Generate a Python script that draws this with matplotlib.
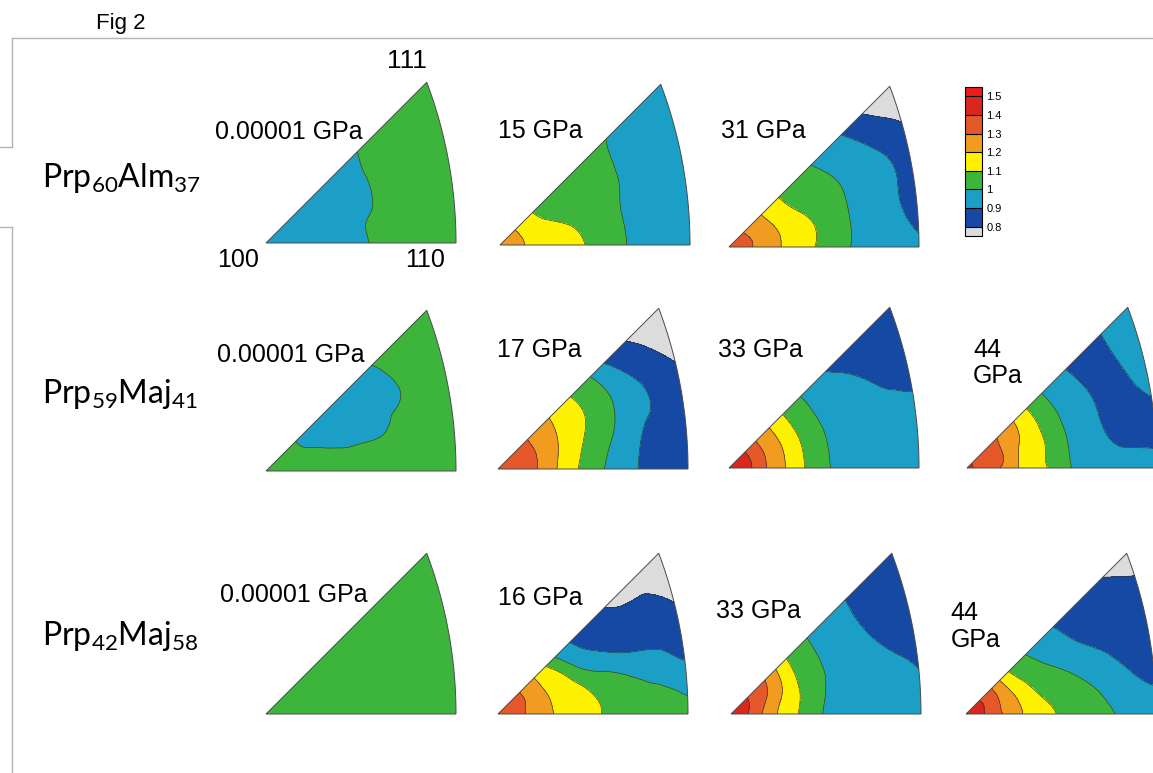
import numpy as np
import matplotlib
matplotlib.use('Agg')
import matplotlib.pyplot as plt
from matplotlib.colors import ListedColormap, BoundaryNorm
from matplotlib.path import Path
from matplotlib.patches import PathPatch
from matplotlib.lines import Line2D
from matplotlib.tri import Triangulation, UniformTriRefiner

plt.rcParams['font.family'] = ['Liberation Sans', 'DejaVu Sans']
plt.rcParams['mathtext.fontset'] = 'custom'
plt.rcParams['mathtext.rm'] = 'Lato'
plt.rcParams['mathtext.it'] = 'Lato:italic'
plt.rcParams['mathtext.bf'] = 'Lato:bold'

W, H = 1153, 773

# contour levels and band colours (low -> high)
levels = [0.8, 0.9, 1.0, 1.1, 1.2, 1.3, 1.4, 1.5]
level_labels = ['0.8', '0.9', '1', '1.1', '1.2', '1.3', '1.4', '1.5']
band_colors = ['#1549a4', '#1b9fc6', '#3db53d', '#fff200', '#f29b21', '#e4582a', '#d9271f']
under_color = '#dcdcdc'
over_color = '#ee1b1b'

# sampling rays from the 100 corner (deg) and radii along them
ray_angles = [0, 15, 30, 45]
ray_radii = [0.0, 0.1, 0.2, 0.3, 0.4, 0.5, 0.6, 0.7, 0.8, 0.9, 1.0, 1.1, 1.2]

# values along each ray, rows = 0, 15, 30, 45 deg
prp60_p0 = [[0.95, 0.95, 0.96, 0.96, 0.97, 0.98, 1.03, 1.04, 1.04, 1.05, 1.05, 1.05, 1.05],
            [0.95, 0.95, 0.96, 0.96, 0.97, 0.99, 1.01, 1.04, 1.04, 1.05, 1.05, 1.05, 1.05],
            [0.95, 0.95, 0.96, 0.96, 0.97, 0.98, 0.99, 1.03, 1.04, 1.05, 1.05, 1.05, 1.05],
            [0.95, 0.95, 0.96, 0.96, 0.97, 0.98, 0.99, 1.005, 1.04, 1.05, 1.05, 1.05, 1.05]]
prp60_p15 = [[1.25, 1.21, 1.18, 1.15, 1.12, 1.075, 1.025, 0.99, 0.97, 0.96, 0.95, 0.95, 0.95],
             [1.25, 1.21, 1.17, 1.13, 1.096, 1.06, 1.02, 0.99, 0.97, 0.96, 0.95, 0.95, 0.95],
             [1.25, 1.21, 1.14, 1.09, 1.07, 1.047, 1.026, 1.004, 0.98, 0.97, 0.96, 0.95, 0.95],
             [1.25, 1.21, 1.12, 1.086, 1.069, 1.052, 1.034, 1.017, 0.998, 0.98, 0.97, 0.96, 0.95]]
prp60_p31 = [[1.36, 1.314, 1.25, 1.183, 1.128, 1.072, 1.017, 0.98, 0.96, 0.945, 0.92, 0.9, 0.9],
             [1.36, 1.314, 1.25, 1.184, 1.132, 1.079, 1.026, 0.982, 0.946, 0.911, 0.88, 0.86, 0.85],
             [1.36, 1.31, 1.238, 1.167, 1.099, 1.063, 1.026, 0.99, 0.955, 0.92, 0.885, 0.85, 0.79],
             [1.36, 1.305, 1.231, 1.15, 1.084, 1.044, 1.004, 0.961, 0.917, 0.86, 0.795, 0.76, 0.74]]

prp59_p0 = [[1.05, 1.05, 1.05, 1.05, 1.05, 1.05, 1.05, 1.05, 1.05, 1.05, 1.05, 1.05, 1.05],
            [1.05, 1.05, 1.05, 1.04, 1.01, 1.004, 1.004, 1.02, 1.05, 1.05, 1.05, 1.05, 1.05],
            [1.05, 1.05, 1.02, 0.98, 0.97, 0.97, 0.97, 0.98, 0.995, 1.03, 1.05, 1.05, 1.05],
            [1.05, 1.05, 1.01, 0.975, 0.97, 0.97, 0.97, 0.99, 1.003, 1.04, 1.05, 1.05, 1.05]]
prp59_p17 = [[1.38, 1.34, 1.304, 1.21, 1.118, 1.041, 0.974, 0.917, 0.88, 0.86, 0.85, 0.84, 0.84],
             [1.38, 1.345, 1.309, 1.225, 1.142, 1.073, 1.012, 0.953, 0.895, 0.87, 0.85, 0.83, 0.82],
             [1.38, 1.345, 1.31, 1.242, 1.172, 1.117, 1.059, 0.999, 0.943, 0.89, 0.85, 0.80, 0.77],
             [1.38, 1.345, 1.31, 1.253, 1.188, 1.125, 1.06, 0.989, 0.888, 0.825, 0.78, 0.76, 0.75]]
prp59_p33 = [[1.46, 1.425, 1.299, 1.199, 1.099, 1.017, 0.98, 0.96, 0.95, 0.95, 0.95, 0.94, 0.94],
             [1.46, 1.425, 1.299, 1.199, 1.099, 1.017, 0.98, 0.96, 0.95, 0.95, 0.94, 0.93, 0.93],
             [1.46, 1.425, 1.299, 1.199, 1.099, 1.017, 0.98, 0.96, 0.93, 0.895, 0.87, 0.86, 0.85],
             [1.46, 1.425, 1.299, 1.199, 1.099, 1.017, 0.97, 0.91, 0.87, 0.86, 0.85, 0.84, 0.84]]
prp59_p44 = [[1.43, 1.354, 1.272, 1.178, 1.118, 1.033, 0.98, 0.96, 0.95, 0.94, 0.93, 0.92, 0.92],
             [1.43, 1.361, 1.299, 1.181, 1.119, 1.036, 0.971, 0.924, 0.88, 0.87, 0.88, 0.89, 0.9],
             [1.43, 1.36, 1.305, 1.215, 1.132, 1.043, 0.974, 0.927, 0.88, 0.87, 0.91, 0.93, 0.95],
             [1.43, 1.367, 1.318, 1.244, 1.144, 1.045, 0.972, 0.917, 0.87, 0.86, 0.901, 0.93, 0.95]]

prp42_p0 = [[1.05, 1.05, 1.05, 1.05, 1.05, 1.05, 1.05, 1.05, 1.05, 1.05, 1.05, 1.05, 1.05],
            [1.05, 1.05, 1.05, 1.05, 1.05, 1.05, 1.05, 1.05, 1.05, 1.05, 1.05, 1.05, 1.05],
            [1.05, 1.05, 1.05, 1.05, 1.05, 1.05, 1.05, 1.05, 1.05, 1.05, 1.05, 1.05, 1.05],
            [1.05, 1.05, 1.05, 1.05, 1.05, 1.05, 1.05, 1.05, 1.05, 1.05, 1.05, 1.05, 1.05]]
prp42_p16 = [[1.36, 1.32, 1.264, 1.196, 1.154, 1.112, 1.09, 1.07, 1.06, 1.05, 1.05, 1.04, 1.03],
             [1.36, 1.322, 1.267, 1.19, 1.143, 1.096, 1.057, 1.018, 0.98, 0.955, 0.915, 0.9, 0.9],
             [1.36, 1.325, 1.27, 1.179, 1.107, 0.988, 0.925, 0.88, 0.86, 0.85, 0.84, 0.81, 0.78],
             [1.36, 1.325, 1.27, 1.167, 1.033, 0.92, 0.87, 0.833, 0.797, 0.78, 0.77, 0.76, 0.75]]
prp42_p33 = [[1.46, 1.386, 1.25, 1.145, 1.064, 0.99, 0.96, 0.95, 0.94, 0.93, 0.92, 0.91, 0.91],
             [1.46, 1.399, 1.278, 1.17, 1.079, 1.007, 0.981, 0.96, 0.94, 0.92, 0.9, 0.88, 0.87],
             [1.46, 1.41, 1.32, 1.211, 1.093, 1.021, 0.978, 0.946, 0.914, 0.88, 0.86, 0.85, 0.84],
             [1.46, 1.417, 1.345, 1.244, 1.114, 1.036, 0.985, 0.951, 0.918, 0.885, 0.87, 0.86, 0.85]]
prp42_p44 = [[1.46, 1.399, 1.291, 1.199, 1.141, 1.09, 1.059, 1.027, 0.995, 0.97, 0.95, 0.94, 0.94],
             [1.46, 1.399, 1.284, 1.183, 1.099, 1.062, 1.023, 0.983, 0.939, 0.896, 0.87, 0.86, 0.85],
             [1.46, 1.405, 1.287, 1.15, 1.061, 1.006, 0.957, 0.91, 0.88, 0.86, 0.85, 0.84, 0.83],
             [1.46, 1.399, 1.286, 1.12, 1.025, 0.967, 0.919, 0.884, 0.858, 0.832, 0.805, 0.78, 0.76]]

row_labels = [r'$\mathrm{Prp}_{60}\mathrm{Alm}_{37}$',
              r'$\mathrm{Prp}_{59}\mathrm{Maj}_{41}$',
              r'$\mathrm{Prp}_{42}\mathrm{Maj}_{58}$']

# panel: values, 100-corner position (px), pressure label lines with (x, baseline) in px
panels = [
    (prp60_p0, (266, 243), [('0.00001 GPa', 215, 139)]),
    (prp60_p15, (500, 245), [('15 GPa', 498, 138)]),
    (prp60_p31, (729, 247), [('31 GPa', 721, 138)]),
    (prp59_p0, (266, 471), [('0.00001 GPa', 217, 362)]),
    (prp59_p17, (498, 469), [('17 GPa', 497, 357)]),
    (prp59_p33, (729, 468), [('33 GPa', 718, 357)]),
    (prp59_p44, (967, 468), [('44', 973, 357), ('GPa', 973, 383)]),
    (prp42_p0, (266, 714), [('0.00001 GPa', 220, 602)]),
    (prp42_p16, (498, 714), [('16 GPa', 498, 605)]),
    (prp42_p33, (731, 714), [('33 GPa', 716, 618)]),
    (prp42_p44, (966, 714), [('44', 950, 620), ('GPa', 951, 647)]),
]
TRI_PX = 190  # width of the 100-110 edge in px


def fx(x):
    return x / W


def fy(y):
    return 1 - y / H


# standard triangle: 100 at (0,0), 110 at (1,0), 111 at (a,a), curved 110-111 edge
a = 0.846
c = (1 - 2 * a ** 2) / (2 * (1 - a))
rad = 1 - c
t = np.linspace(0, np.arctan2(a, a - c), 60)
verts = [(0, 0)] + list(zip(c + rad * np.cos(t), rad * np.sin(t))) + [(0, 0)]
codes = [Path.MOVETO] + [Path.LINETO] * (len(verts) - 2) + [Path.CLOSEPOLY]
tri_path = Path(verts, codes)

# sample points: one shared corner point plus the rest of every ray
th = np.radians(ray_angles)[:, None]
rr = np.array(ray_radii)[None, 1:]
pts_x = np.concatenate([[0.0], (rr * np.cos(th)).ravel()])
pts_y = np.concatenate([[0.0], (rr * np.sin(th)).ravel()])
refiner = UniformTriRefiner(Triangulation(pts_x, pts_y))

cmap = ListedColormap(band_colors)
cmap.set_under(under_color)
cmap.set_over(over_color)
norm = BoundaryNorm(levels, cmap.N)

fig = plt.figure(figsize=(W / 100, H / 100), dpi=100)

ymax = 0.86
cs = None
for vals, (ox, oy), texts in panels:
    ax = fig.add_axes([fx(ox), fy(oy), TRI_PX / W, ymax * TRI_PX / H])
    ax.set_xlim(0, 1)
    ax.set_ylim(0, ymax)
    ax.axis('off')
    z = np.array(vals)
    zv = np.concatenate([[z[0, 0]], z[:, 1:].ravel()])
    tri_f, z_f = refiner.refine_field(zv, subdiv=3)
    cs_p = ax.tricontourf(tri_f, z_f, levels=levels, cmap=cmap, norm=norm, extend='both')
    cl = ax.tricontour(tri_f, z_f, levels=levels, colors='#333333', linewidths=0.45)
    clip = PathPatch(tri_path, transform=ax.transData, fc='none', ec='none')
    ax.add_patch(clip)
    cs_p.set_clip_path(clip)
    cl.set_clip_path(clip)
    ax.add_patch(PathPatch(tri_path, fill=False, ec='#4a4a4a', lw=0.7, clip_on=False))
    if cs is None:
        cs = cs_p
    for s, tx, ty in texts:
        fig.text(fx(tx), fy(ty), s, fontsize=18, ha='left', va='baseline')

# orientation labels on the first triangle
fig.text(fx(387), fy(68), '111', fontsize=19, ha='left', va='baseline')
fig.text(fx(217), fy(267), '100', fontsize=18, ha='left', va='baseline')
fig.text(fx(405), fy(267), '110', fontsize=18, ha='left', va='baseline')

for lab, ty in zip(row_labels, [187, 403, 645]):
    fig.text(fx(42), fy(ty), lab, fontsize=23, ha='left', va='baseline')

fig.text(fx(96), fy(29), 'Fig 2', fontsize=16, ha='left', va='baseline')

# frame lines
frame = '#b4b4b4'
for xs, ys in [([12, W], [38, 38]), ([12, 12], [38, 147]), ([0, 12], [147, 147]),
               ([0, 12], [227, 227]), ([12, 12], [227, H])]:
    fig.add_artist(Line2D([fx(v) for v in xs], [fy(v) for v in ys], color=frame, lw=1))

# colour scale
cax = fig.add_axes([fx(965), fy(235.7), 17 / W, 148.4 / H])
cb = fig.colorbar(cs, cax=cax, ticks=levels, extendrect=True, extendfrac=0.07,
                  drawedges=True)
cb.set_ticklabels(level_labels)
cb.outline.set_linewidth(0.8)
cb.outline.set_edgecolor('black')
cb.dividers.set_color('black')
cb.dividers.set_linewidth(0.8)
cax.tick_params(length=0, labelsize=8, pad=3)

fig.savefig('out.png', dpi=100)
